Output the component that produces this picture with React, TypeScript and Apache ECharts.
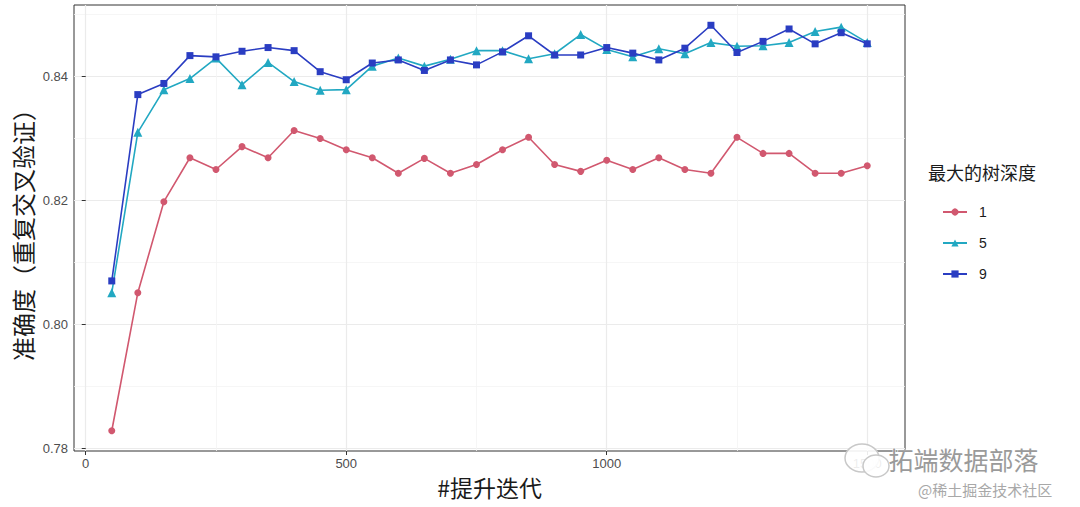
import React, { useEffect, useRef } from "react";
import * as echarts from "echarts";

const iterations = [50, 100, 150, 200, 250, 300, 350, 400, 450, 500, 550, 600, 650, 700, 750, 800, 850, 900, 950, 1000, 1050, 1100, 1150, 1200, 1250, 1300, 1350, 1400, 1450, 1500];
const acc1 = [0.7828, 0.8051, 0.8198, 0.8269, 0.825, 0.8287, 0.8269, 0.8313, 0.83, 0.8282, 0.8269, 0.8244, 0.8268, 0.8244, 0.8258, 0.8282, 0.8302, 0.8258, 0.8247, 0.8265, 0.825, 0.8269, 0.825, 0.8244, 0.8302, 0.8276, 0.8276, 0.8244, 0.8244, 0.8256];
const acc5 = [0.8051, 0.831, 0.8379, 0.8397, 0.843, 0.8387, 0.8423, 0.8392, 0.8378, 0.8379, 0.8417, 0.843, 0.8417, 0.8428, 0.8442, 0.8442, 0.8429, 0.8437, 0.8468, 0.8444, 0.8432, 0.8445, 0.8437, 0.8455, 0.8449, 0.845, 0.8455, 0.8473, 0.848, 0.8455];
const acc9 = [0.807, 0.8371, 0.8389, 0.8434, 0.8432, 0.8441, 0.8447, 0.8442, 0.8408, 0.8395, 0.8422, 0.8427, 0.841, 0.8427, 0.8419, 0.844, 0.8466, 0.8435, 0.8435, 0.8447, 0.8438, 0.8427, 0.8446, 0.8483, 0.8439, 0.8457, 0.8477, 0.8453, 0.8471, 0.8453];

const seriesNames = ["1", "5", "9"];
const seriesColors = ["#D1586F", "#22A8C2", "#2A3DC2"];
const seriesSymbols = ["circle", "triangle", "rect"];

const xMajor = [0, 500, 1000, 1500];
const xMinor = [250, 750, 1250];
const yMajor = [0.78, 0.8, 0.82, 0.84];
const yMinor = [0.79, 0.81, 0.83, 0.85];

const xMin = -22.5;
const xMax = 1572.5;
const yMin = 0.779525;
const yMax = 0.851575;

const xTitle = "#提升迭代";
const yTitle = "准确度（重复交叉验证）";
const legendTitle = "最大的树深度";

export default function App() {
  const ref = useRef<HTMLDivElement>(null);
  useEffect(() => {
    if (!ref.current) return;
    const chart = echarts.init(ref.current, null, { renderer: "svg" });
    const allData = [acc1, acc5, acc9];
    const cjk = "'Noto Sans CJK SC', sans-serif";
    const sans = "'Liberation Sans', Arial, sans-serif";
    const option: any = {
      animation: false,
      backgroundColor: "#ffffff",
      grid: {
        left: 74,
        right: 175,
        top: 5,
        bottom: 56,
        show: true,
        borderColor: "#333333",
        borderWidth: 1,
        backgroundColor: "#ffffff",
      },
      xAxis: [
        {
          type: "value",
          min: xMin,
          max: xMax,
          axisLine: { show: false },
          axisTick: { show: true, length: 4, lineStyle: { color: "#333333" }, customValues: xMajor },
          axisLabel: {
            customValues: xMajor,
            color: "#4D4D4D",
            fontSize: 13,
            fontFamily: sans,
            margin: 6,
            formatter: (v: number) => String(v),
          },
          splitLine: { show: true, lineStyle: { color: "#EBEBEB", width: 1.2 } },
        },
        {
          type: "value",
          min: xMin,
          max: xMax,
          axisLine: { show: false },
          axisTick: { show: false, customValues: xMinor },
          axisLabel: { show: false, customValues: xMinor },
          splitLine: { show: true, lineStyle: { color: "#F4F4F4", width: 0.8 } },
        },
      ],
      yAxis: [
        {
          type: "value",
          min: yMin,
          max: yMax,
          axisLine: { show: false },
          axisTick: { show: true, length: 4, lineStyle: { color: "#333333" }, customValues: yMajor },
          axisLabel: {
            customValues: yMajor,
            color: "#4D4D4D",
            fontSize: 13,
            fontFamily: sans,
            margin: 6,
            formatter: (v: number) => v.toFixed(2),
          },
          splitLine: { show: true, lineStyle: { color: "#EBEBEB", width: 1.2 } },
        },
        {
          type: "value",
          min: yMin,
          max: yMax,
          axisLine: { show: false },
          axisTick: { show: false, customValues: yMinor },
          axisLabel: { show: false, customValues: yMinor },
          splitLine: { show: true, lineStyle: { color: "#F4F4F4", width: 0.8 } },
        },
      ],
      legend: {
        orient: "vertical",
        left: 937,
        top: 200,
        itemWidth: 24,
        itemHeight: 9,
        itemGap: 17,
        data: seriesNames,
        textStyle: { color: "#1A1A1A", fontSize: 14, fontFamily: sans, padding: [0, 0, 0, 7] },
      },
      series: allData.map((arr, i) => ({
        name: seriesNames[i],
        type: "line",
        xAxisIndex: 0,
        yAxisIndex: 0,
        data: iterations.map((x, j) => [x, arr[j]]),
        symbol: seriesSymbols[i],
        symbolSize: i === 1 ? 9 : 7,
        showSymbol: true,
        color: seriesColors[i],
        lineStyle: { width: 1.6, color: seriesColors[i] },
        itemStyle: { color: seriesColors[i] },
        z: 2 + i,
      })),
      graphic: [
        {
          type: "text",
          left: 928,
          top: 163,
          style: { text: legendTitle, fontSize: 18, fontFamily: cjk, fill: "#1A1A1A" },
        },
        {
          type: "text",
          x: 489.5,
          y: 487,
          style: {
            text: xTitle,
            fontSize: 23,
            fontFamily: cjk,
            fill: "#1A1A1A",
            align: "center",
            verticalAlign: "middle",
          },
        },
        {
          type: "text",
          x: 22,
          y: 229,
          rotation: Math.PI / 2,
          style: {
            text: yTitle,
            fontSize: 24,
            fontFamily: cjk,
            fill: "#1A1A1A",
            align: "center",
            verticalAlign: "middle",
          },
        },
        {
          type: "ellipse",
          shape: { cx: 862, cy: 458, rx: 17, ry: 14 },
          style: { fill: "rgba(255,255,255,0.9)", stroke: "#C8C8C8", lineWidth: 1.5 },
          z: 100,
        },
        {
          type: "ellipse",
          shape: { cx: 876, cy: 466, rx: 13, ry: 11 },
          style: { fill: "rgba(255,255,255,0.9)", stroke: "#C8C8C8", lineWidth: 1.5 },
          z: 101,
        },
        {
          type: "text",
          left: 888,
          top: 446,
          z: 102,
          style: {
            text: "拓端数据部落",
            fontSize: 25,
            fontFamily: cjk,
            fill: "#9A9A9A",
            stroke: "#ffffff",
            lineWidth: 1,
          },
        },
        {
          type: "text",
          left: 918,
          top: 482,
          z: 102,
          style: {
            text: "@稀土掘金技术社区",
            fontSize: 15,
            fontFamily: cjk,
            fill: "#A8A8A8",
          },
        },
      ],
    };
    chart.setOption(option);
    return () => chart.dispose();
  }, []);
  return (
    <div
      ref={ref}
      style={{ position: "fixed", left: 0, top: 0, width: 1080, height: 507, background: "#fff" }}
    />
  );
}
